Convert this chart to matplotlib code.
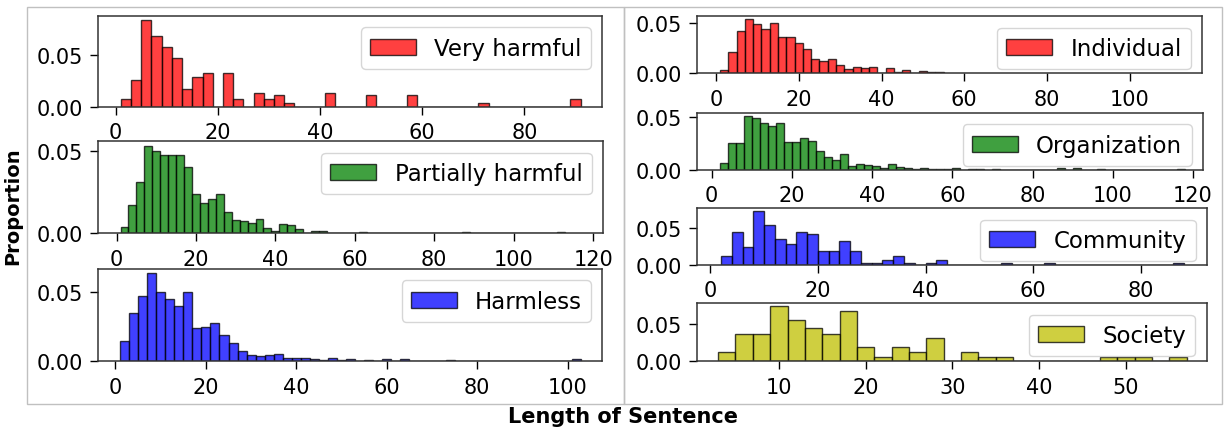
import matplotlib
matplotlib.use("Agg")
import matplotlib.pyplot as plt
from matplotlib.patches import Rectangle

W, H = 1228, 431

# histogram heights (density), bins of width 2 starting at the given value
very_harmful_start = 1
very_harmful = [0.0071, 0.0257, 0.0845, 0.069, 0.0588, 0.0471, 0.0175, 0.0292, 0.0331, 0,
                0.0331, 0.0071, 0, 0.0136, 0.0071, 0.011, 0.0032, 0, 0, 0,
                0.0136, 0, 0, 0, 0.011, 0, 0, 0, 0.011, 0,
                0, 0, 0, 0, 0, 0.003, 0, 0, 0, 0,
                0, 0, 0, 0, 0.0071]

partially_start = 1
partially = [0.0041, 0.0169, 0.0311, 0.053, 0.0498, 0.0474, 0.0474, 0.0474, 0.0402, 0.024,
             0.0183, 0.0207, 0.024, 0.0128, 0.0081, 0.0077, 0.0061, 0.0085, 0.003, 0.0016,
             0.0057, 0.0051, 0.0024, 0, 0.0012, 0.0012, 0, 0, 0, 0,
             0.0006, 0, 0, 0, 0, 0, 0, 0, 0, 0,
             0, 0, 0, 0.0006, 0, 0, 0, 0, 0, 0,
             0, 0, 0, 0, 0, 0.0006]

harmless_start = 1
harmless = [0.0145, 0.0348, 0.0473, 0.0637, 0.0502, 0.0453, 0.0404, 0.05, 0.0238, 0.025,
            0.0277, 0.0194, 0.0132, 0.0074, 0.0047, 0.0037, 0.0047, 0.0056, 0.0025, 0.0025,
            0.0025, 0.0017, 0.001, 0.0025, 0.001, 0.0017, 0, 0.0007, 0, 0.0017,
            0, 0.0017, 0, 0, 0, 0, 0.0007, 0, 0, 0,
            0, 0, 0, 0, 0, 0, 0, 0, 0, 0,
            0.0017]

individual_start = 1
individual = [0.0033, 0.021, 0.0417, 0.0537, 0.0483, 0.0443, 0.05, 0.0363, 0.0363, 0.0303,
              0.0243, 0.014, 0.0117, 0.014, 0.0087, 0.0047, 0.006, 0.005, 0.006, 0,
              0.005, 0.0013, 0.0037, 0, 0.0023, 0.001, 0.001]

organization_start = 2
organization = [0.0061, 0.0255, 0.0255, 0.0516, 0.049, 0.0442, 0.042, 0.0442, 0.0265, 0.0265,
                0.0303, 0.0277, 0.0174, 0.0126, 0.0097, 0.0148, 0.0032, 0.0058, 0.0045, 0.0032,
                0.0016, 0.0058, 0.0023, 0.002, 0.001, 0.002, 0.001, 0.001, 0.001, 0.002,
                0, 0.001, 0.001, 0, 0.001, 0, 0, 0, 0, 0,
                0, 0, 0.002, 0, 0.002, 0, 0, 0.001, 0, 0,
                0, 0, 0, 0, 0, 0, 0, 0.001]

community_start = 2
community = [0.0123, 0.0446, 0.025, 0.0732, 0.0536, 0.0359, 0.0286, 0.0446, 0.0414, 0.0191,
             0.0191, 0.0323, 0.0191, 0.0032, 0.0032, 0.0068, 0.0123, 0.0032, 0, 0.0032,
             0.0068, 0, 0, 0, 0, 0, 0.0023, 0, 0, 0,
             0.0023, 0, 0, 0, 0, 0, 0, 0, 0, 0,
             0, 0, 0.0023]

society_start = 3
society = [0.0123, 0.0373, 0.0373, 0.075, 0.0555, 0.045, 0.0373, 0.0678, 0.0191, 0.0064,
           0.0191, 0.0123, 0.0318, 0, 0.0123, 0.0064, 0.0064, 0, 0, 0,
           0, 0, 0.0064, 0.0064, 0.0064, 0, 0.0064]

# (label, start, heights, colour, axes box in px: left, top, right, bottom, xlim)
panels = [
    ("Very harmful", very_harmful_start, very_harmful, "r", (98.3, 17, 602.5, 107.5), (-3.4, 95.3)),
    ("Partially harmful", partially_start, partially, "g", (98.3, 142.3, 603, 234.3), (-4.6, 122.5)),
    ("Harmless", harmless_start, harmless, "b", (98.3, 270, 602.5, 362.3), (-3.8, 107.7)),
    ("Individual", individual_start, individual, "r", (697.3, 17.3, 1202.3, 74.3), (-4.5, 117.5)),
    ("Organization", organization_start, organization, "g", (697.3, 114, 1203, 170.7), (-3.6, 122.5)),
    ("Community", community_start, community, "b", (697.3, 209.3, 1207, 266), (-2.4, 92.3)),
    ("Society", society_start, society, "y", (697.3, 304.3, 1206.5, 362.3), (0.6, 59.3)),
]

fig = plt.figure(figsize=(W / 100, H / 100), dpi=100)

for label, start, heights, color, box, xlim in panels:
    l, t, r, b = box
    ax = fig.add_axes([l / W, 1 - b / H, (r - l) / W, (b - t) / H])
    lefts = [start + 2 * i for i in range(len(heights))]
    ax.bar(lefts, heights, width=2, align="edge", color=color, alpha=0.75,
           edgecolor="black", linewidth=1, label=label)
    ax.set_yticks([0, 0.05])
    ax.set_yticklabels(["0.00", "0.05"])
    ax.tick_params(labelsize=15, length=5.5, pad=5.5, width=1)
    for sp in ax.spines.values():
        sp.set_linewidth(1.1)
        sp.set_color("#333333")
    ax.set_xlim(*xlim)
    ax.legend(loc="upper right", fontsize=16.5)

# grey frames around the two halves
for x0, x1 in [(26.5, 624.5), (624.5, 1222)]:
    fig.add_artist(Rectangle((x0 / W, 1 - 405 / H), (x1 - x0) / W, (405 - 8.3) / H,
                             transform=fig.transFigure, fill=False,
                             edgecolor="#c0c0c0", linewidth=1))

fig.text(13 / W, 1 - 206 / H, "Proportion", rotation=90, fontsize=14,
         fontweight="bold", ha="center", va="center")
fig.text(623 / W, 1 - 417 / H, "Length of Sentence", fontsize=15,
         fontweight="bold", ha="center", va="center")

fig.savefig("out.png", dpi=100)
